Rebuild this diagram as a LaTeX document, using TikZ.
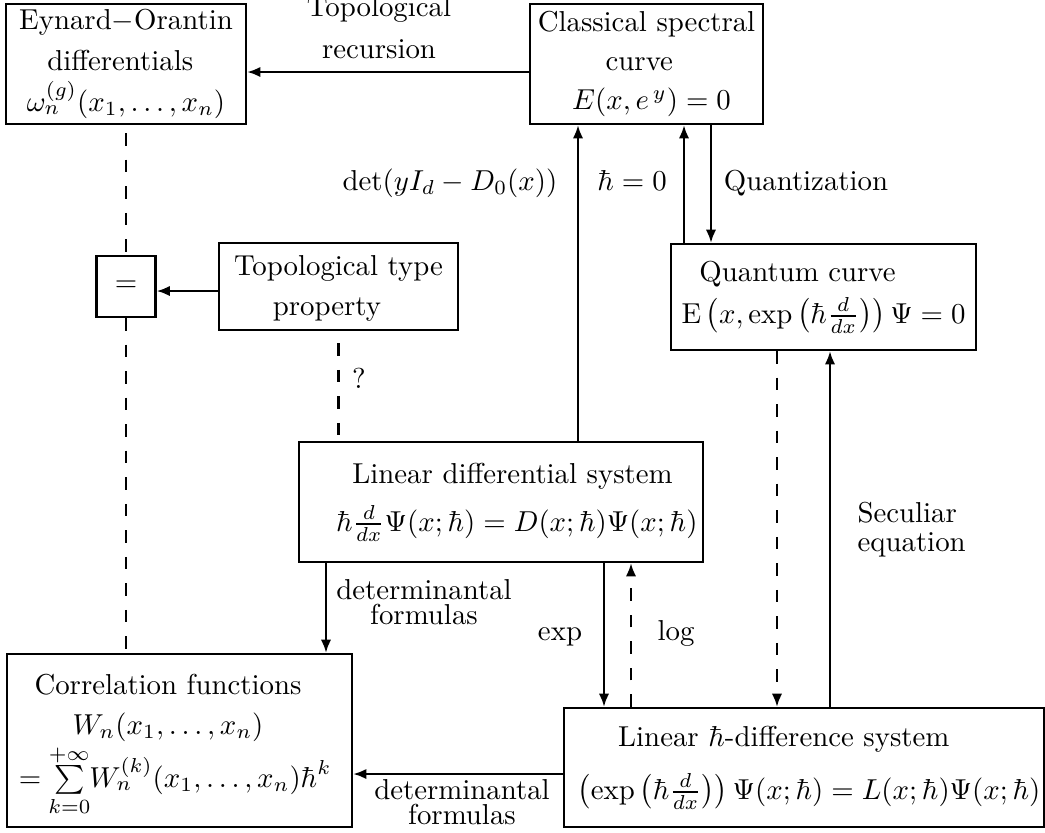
\documentclass[tikz,border=0pt]{standalone}
\usepackage{mathtools}
\usetikzlibrary{arrows.meta}
\newlength\pxu
\setlength\pxu{0.347pt}
\newcommand\myL[1]{\hspace*{#1}}
\newcommand\myR[1]{\hspace*{#1}\mbox{}}
\tikzset{
  box/.style={draw, line width=0.8pt, inner sep=0pt, align=center},
  lbl/.style={inner sep=0pt, align=center},
  arr/.style={line width=0.8pt, -{Latex[length=4.6pt,width=3.6pt]}},
  dsh/.style={line width=0.8pt, dash pattern=on 4.4pt off 4.8pt},
}
\begin{document}
\begin{tikzpicture}[x=0.347pt,y=-0.347pt]
\useasboundingbox (0,0) rectangle (1045,832);
% boxes
\node[box, minimum width=240*\pxu, minimum height=120*\pxu] (eo) at (126,64)
  {Eynard$-$Orantin\\[2.2pt] differentials\myR{4pt}\\[2.2pt] $\omega_n^{(g)}(x_1,\ldots,x_n)$};
\node[box, minimum width=233*\pxu, minimum height=120*\pxu] (cls) at (646.5,64)
  {Classical spectral\\[1.4pt] curve\myR{5pt}\\[1.6pt] \myL{3.5pt}$E(x,e^{\,y})=0$};
\node[box, minimum width=305*\pxu, minimum height=106*\pxu] (q) at (823.5,297)
  {Quantum curve\myR{18pt}\\[2.6pt] $\mathrm{E}\left(x,\exp\left(\hbar\frac{d}{dx}\right)\right)\Psi=0$};
\node[box, minimum width=59*\pxu, minimum height=61*\pxu] (eq) at (126,286.5) {$=$};
\node[box, minimum width=239*\pxu, minimum height=87*\pxu] (topo) at (338.5,286.5)
  {\rule{0pt}{8.2pt}Topological type\\[1.8pt] property\myR{8pt}};
\node[box, minimum width=404*\pxu, minimum height=120*\pxu] (lds) at (501,502)
  {\myL{8pt}Linear differential system\\[4.7pt] \myL{11pt}$\hbar\frac{d}{dx}\Psi(x;\hbar)=D(x;\hbar)\Psi(x;\hbar)$};
\node[box, minimum width=345*\pxu, minimum height=173*\pxu] (corr) at (179.5,740.5)
  {\rule{0pt}{10.4pt}Correlation functions\myR{8pt}\\[1.9pt] $W_n(x_1,\ldots,x_n)$\myR{8pt}\\ $=\,\sum\limits_{\mathclap{k=0}}^{\mathclap{+\infty}}W_n^{(k)}(x_1,\ldots,x_n)\hbar^k$\myR{3pt}};
\node[box, minimum width=480*\pxu, minimum height=119*\pxu] (lhds) at (804,767.5)
  {Linear $\hbar$-difference system\myR{14pt}\\[6.4pt] \myL{3.5pt}$\left(\exp\left(\hbar\frac{d}{dx}\right)\right)\Psi(x;\hbar)=L(x;\hbar)\Psi(x;\hbar)$};
% labels
\node[lbl] (ltr) at (379,27.5) {Topological\\[2.5pt] recursion};
\node[lbl, anchor=base] (ldet) at (450,190) {$\det(yI_d-D_0(x))$};
\node[lbl, anchor=base] (lh0) at (632,190) {$\hbar=0$};
\node[lbl, anchor=base] (lqz) at (806,190) {Quantization};
\node[lbl, anchor=base] (lq) at (359,388) {?};
\node[lbl, align=left, anchor=west] (lsec) at (857,530) {Seculiar\\[-2pt] equation};
\node[lbl] (ldf1) at (424,602.5) {determinantal\\[-3.3pt] formulas};
\node[lbl, anchor=base] (lexp) at (560,640) {exp};
\node[lbl, anchor=base] (llog) at (676,640) {log};
\node[lbl] (ldf2) at (462,802.5) {determinantal\\[-3.3pt] formulas};
% connectors
\draw[arr] (cls.west |- 0,72) -- (eo.east |- 0,72);
\draw[arr] (topo.west |- 0,291) -- (eq.east |- 0,291);
\draw[arr] (578,0 |- lds.north) -- (578,0 |- cls.south);
\draw[arr] (684,0 |- q.north) -- (684,0 |- cls.south);
\draw[arr] (711,0 |- cls.south) -- (711,0 |- q.north);
\draw[dsh, dash phase=6.4pt] (eo.south) -- (eq.north);
\draw[dsh] (eq.south) -- (126,0 |- corr.north);
\draw[dsh, dash phase=5pt] (topo.south) -- (338.5,0 |- lds.north);
\draw[arr] (326,0 |- lds.south) -- (326,0 |- corr.north);
\draw[arr] (604,0 |- lds.south) -- (604,0 |- lhds.north);
\draw[arr, dsh] (631,0 |- lhds.north) -- (631,0 |- lds.south);
\draw[arr, dsh] (777,0 |- q.south) -- (777,0 |- lhds.north);
\draw[arr] (830,0 |- lhds.north) -- (830,0 |- q.south);
\draw[arr] (lhds.west |- 0,774) -- (corr.east |- 0,774);
\end{tikzpicture}
\end{document}
